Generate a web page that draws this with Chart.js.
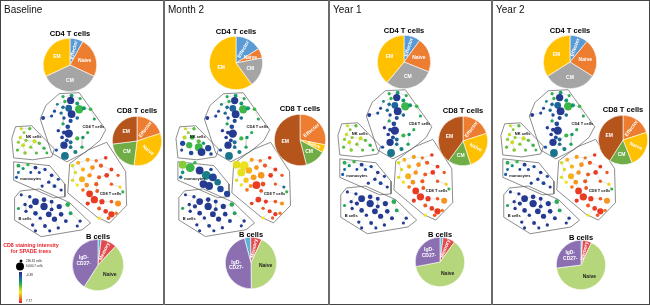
<!DOCTYPE html>
<html><head><meta charset="utf-8">
<script src="https://cdn.jsdelivr.net/npm/chart.js@4.4.1/dist/chart.umd.min.js"></script>
<style>
body{margin:0;background:#fff;font-family:'Liberation Sans',Arial,sans-serif}
#fig{position:relative;width:650px;height:306px;overflow:hidden;background:#fff}
.t{position:absolute;white-space:nowrap;line-height:1}
canvas{position:absolute}
</style></head><body><div id="fig"></div>
<script>
const panelTitles = ['Baseline', 'Month 2', 'Year 1', 'Year 2']

// pie subsets, % of parent, clockwise from 12 o'clock
const cd4Subsets = ['Effector', 'Naive', 'CM', 'EM']
const cd4Pct = [[8,24,36,32], [16,6,18,60], [10,21,30,39], [11,23,32,34]]
const cd8Subsets = ['Effector', 'Naive', 'CM', 'EM']
const cd8Pct = [[20,32,21,27], [28,5,13,54], [20,25,15,40], [20,24,15,41]]
const bSubsets = ['', 'Memory', 'Naive', 'IgD-\nCD27-']
const bPct = [[2,10,47,41], [4,7,43,46], [2,8,62,28], [1,6,66,27]]

const intensityTicks = ['-0.38', '7.77']
const sizeTicks = ['290.32 cells', '6,000.7 cells']

// SPADE nodes: [x, y, CD8 intensity 0..1, bubble r]
const cd4Nodes = [[62,95,.38,1.2],[71,94,.32,1.5],[80,97,.38,1.2],[64,100,.4,1.3],[70,99,.05,2.8],[77,102,.3,1.5],[56,103,.25,1.1],[62,106,.2,1.4],[68,107,.18,2.6],[79,108,.42,3.2],[84,107,.3,1.6],[91,108,.42,1.4],[53,110,.1,1.2],[60,112,.2,1.3],[71,113,.05,3],[50,115,.1,1.2],[63,117,.1,1.3],[41,117,.05,1.5],[77,117,.2,1.4],[70,120,.1,1.6],[62,123,.35,1.3],[67,126,.1,1.8],[57,130,.05,1.3],[63,132,.05,1.5],[68,133,.05,3.2],[61,137,.05,1.4],[66,140,.1,1.5],[70,142,.2,1.5],[77,138,.42,1.6],[83,137,.3,1.3],[88,132,.38,1.2],[63,145,.05,2.8],[70,147,.2,1.4],[82,147,.35,1.3],[64,156,.22,3],[75,152,.25,1.6],[55,150,.15,1.3],[95,118,.35,1.2]]
const nkNodes = [[18,128,.58,1.2],[27,128,.45,1.3],[21,132,.5,1.1],[17,137,.58,1.3],[23,140,.5,1.2],[32,141,.58,1.6],[15,142,.5,1.2],[37,143,.45,1.3],[20,145,.58,1.5],[28,147,.5,1.3],[42,148,.4,1.3],[14,150,.45,1.2],[22,153,.5,1.4],[34,153,.45,1.2],[45,153,.4,1.1]]
const nkNodesM2 = [[18,128,.58,1.2],[27,128,.45,1.3],[21,132,.5,1.1],[17,137,.55,1.6],[25,137,.42,1.8],[32,141,.45,1.6],[15,143,.1,2],[37,143,.3,1.3],[22,145,.42,2.4],[32,147,.42,3],[42,148,.08,2.4],[14,150,.1,1.2],[24,153,.1,1.8],[35,152,.05,3],[45,154,.1,1.4]]
const monoNodes = [[15,166,.38,1.5],[25,165,.42,1.3],[20,169,.3,1.2],[33,168,.05,1.5],[43,170,.1,1.3],[37,173,.1,1.2],[50,176,.05,1.4],[57,180,.1,1.2],[47,183,.05,1.3],[40,187,.05,1.2],[53,187,.1,1.5],[60,191,.05,1.2],[15,173,.2,1.1],[13,178,.15,1.2],[28,173,.1,1.1]]
const monoNodesM2 = [[15,165,.5,3],[23,168,.42,3.4],[33,171,.05,3],[40,176,.25,3.4],[47,178,.08,3],[52,183,.22,2.5],[37,185,.05,3],[43,187,.05,3],[55,190,.1,2.5],[62,195,.08,2.4],[15,173,.3,1.4],[13,178,.2,1.3],[28,163,.4,1.4],[45,170,.1,1.4]]
const bNodes = [[18,196,.05,1.2],[27,198,.05,1.3],[33,203,.05,2.6],[42,201,.05,1.8],[50,203,.05,1.5],[58,208,.05,2],[67,206,.38,1.8],[22,206,.05,1.3],[28,208,.05,1.6],[42,208,.05,2.8],[50,211,.05,1.5],[15,210,.35,1.2],[23,213,.05,1.3],[33,215,.05,1.8],[47,216,.05,2.2],[60,216,.05,1.8],[70,215,.35,1.5],[80,223,.05,1.3],[38,220,.05,1.3],[53,221,.05,2],[65,223,.05,1.5],[77,228,.05,1.2],[30,227,.05,1.3],[43,228,.05,1.5],[57,230,.05,1.3],[33,233,.05,1.2],[48,233,.05,1.2]]
const cd8Nodes = [[72,166,.6,1.4],[78,163,.75,1.5],[88,160,.78,1.6],[97,161,.85,1.3],[107,158,.95,1.4],[102,166,.9,1.6],[93,168,.8,1.8],[83,170,.75,1.6],[75,173,.6,1.3],[113,170,.95,1.5],[120,176,.9,1.3],[108,176,.95,1.8],[100,178,.9,1.5],[90,176,.8,1.7],[82,180,.75,2.3],[72,181,.6,1.3],[77,186,.65,1.3],[87,186,.8,1.8],[97,185,.9,1.6],[113,185,.9,1.3],[122,188,.7,1.2],[90,195,.95,2.6],[83,191,.85,1.4],[98,192,.9,1.5],[125,193,.4,1.2],[95,201,.95,2.8],[103,203,.95,2],[113,203,.9,1.4],[120,205,.8,2.3],[88,205,.95,1.6],[100,210,.9,1.5],[107,213,.95,1.8],[113,216,.95,2.4],[118,215,.85,1.3],[100,220,.65,1.2],[110,220,.9,1.4]]
const cd8NodesM2 = [[72,165,.62,3],[80,166,.64,3.4],[88,160,.78,1.6],[97,161,.85,1.3],[107,158,.95,1.4],[102,166,.9,1.6],[93,168,.8,1.8],[85,171,.75,2.5],[77,173,.63,3],[113,170,.95,1.5],[120,176,.9,1.3],[108,176,.95,1.8],[98,176,.8,2.5],[90,178,.78,2.2],[82,181,.72,2],[72,181,.6,1.3],[77,186,.65,1.3],[87,187,.8,1.6],[100,185,.92,1.8],[113,185,.9,1.3],[122,188,.2,1.2],[93,186,.95,3],[83,191,.85,1.4],[98,192,.9,1.5],[125,193,.4,1.2],[95,201,.95,2.2],[103,203,.95,1.6],[113,203,.9,1.4],[120,205,.8,1.6],[88,205,.95,1.4],[100,210,.9,1.3],[107,213,.95,1.5],[113,216,.95,1.6],[118,215,.85,1.3],[100,220,.65,1.2],[110,220,.9,1.3]]

const cd4Hull = [[58,92],[79,91],[107,129],[101,140],[86,152],[66,162],[50,153],[38,118],[44,104]]
const nkHull = [[12,126],[29,125],[53,149],[50,157],[30,160],[10,158],[8,138]]
const monoHull = [[10,162],[48,166],[64,185],[64,198],[52,199],[10,181]]
const bHull = [[11,199],[17,192],[37,190],[69,204],[91,225],[82,232],[39,239],[11,222]]
const cd8Hull = [[69,164],[88,150],[108,142],[128,172],[129,207],[111,225],[98,219],[67,194]]

const popLabels = [['CD4 T cells',94,126],['NK cells',31,136],['monocytes',28,180],['B cells',22,221],['CD8 T cells',112,195]]

const cd4Colors = ['#5b9bd5','#ed7d31','#a5a5a5','#ffc000']
const cd8Colors = ['#ed7d31','#ffc000','#70ad47','#b5541b']
const bColors = ['#5bb3d6','#e24b4e','#b6d67c','#8b6fb1']

const panels = [
	{left:0, w:164, ox:0, oy:0, cd4:[70,65,26], cd8:[137,141,24], b:[98,265,25], bRot:0},
	{left:164, w:165, ox:0, oy:0, cd4:[72,63,26], cd8:[136,140,25], b:[87,263,25], bRot:-15},
	{left:329, w:163, ox:-3, oy:-3, cd4:[75,62,26], cd8:[134,141,24], b:[111,262,24], bRot:0},
	{left:492, w:158, ox:-3, oy:-3, cd4:[78,62,26], cd8:[131,140,24], b:[89,265,24], bRot:0},
]
const bubbleScale = 1.3

const fig = document.getElementById('fig')
const el = (tag, css, txt) => { const e = document.createElement(tag); e.style.cssText = css; if (txt != null) e.textContent = txt; fig.appendChild(e); return e }

const stops = [[0,[40,44,135]],[.15,[30,88,165]],[.3,[20,150,115]],[.42,[60,182,70]],[.55,[185,215,45]],[.66,[248,228,25]],[.8,[247,148,30]],[1,[228,28,36]]]
const spade = v => {
	let i = 1
	while (i < stops.length-1 && v > stops[i][0]) i++
	const [a,ca] = stops[i-1], [b,cb] = stops[i]
	const t = Math.min(1, Math.max(0, (v-a)/(b-a)))
	return `rgb(${ca.map((c,k)=>Math.round(c+(cb[k]-c)*t)).join(',')})`
}

// edges: each node hooked to nearest earlier node of its population
const edgesOf = n => n.slice(1).flatMap((q,i) => {
	let best = 0, bd = 1e9
	n.slice(0,i+1).forEach((p,j) => { const d = (p[0]-q[0])**2+(p[1]-q[1])**2; if (d < bd) { bd = d; best = j } })
	return [{x:n[best][0],y:n[best][1]},{x:q[0],y:q[1]},{x:NaN,y:NaN}]
})

const hulls = [cd4Hull, nkHull, monoHull, bHull, cd8Hull]

const treeText = {
	id:'treeText',
	afterDatasetsDraw(c, args, o) {
		const ctx = c.ctx, sx = c.scales.x, sy = c.scales.y
		ctx.save()
		ctx.font = 'bold 4px "Liberation Sans"'
		ctx.fillStyle = '#111'; ctx.textAlign = 'center'; ctx.textBaseline = 'middle'
		popLabels.forEach(([t,x,y]) => ctx.fillText(t, sx.getPixelForValue(x), sy.getPixelForValue(y)))
		if (o.legend) {
			ctx.fillStyle = '#000'
			ctx.beginPath(); ctx.arc(21,261,1.5,0,7); ctx.fill()
			ctx.beginPath(); ctx.arc(20,266.5,4,0,7); ctx.fill()
			const g = ctx.createLinearGradient(0,272,0,303)
			stops.forEach(([s,c]) => g.addColorStop(s, `rgb(${c.join(',')})`))
			ctx.fillStyle = g; ctx.fillRect(19,272,3,31)
			ctx.font = '3px "Liberation Sans"'; ctx.textAlign = 'left'; ctx.fillStyle = '#222'
			ctx.fillText(sizeTicks[0],26,261); ctx.fillText(sizeTicks[1],26,266.5)
			ctx.fillText(intensityTicks[0],26,275); ctx.fillText(intensityTicks[1],26,301.5)
		}
		ctx.restore()
	}
}

const pieText = {
	id:'pieText',
	afterDatasetsDraw(c, args, o) {
		const ctx = c.ctx
		c.getDatasetMeta(0).data.forEach((arc, i) => {
			const t = o.labels[i]; if (!t) return
			const {x, y, startAngle, endAngle, outerRadius} = arc.getProps(['x','y','startAngle','endAngle','outerRadius'], true)
			const m = (startAngle+endAngle)/2, d = outerRadius*.58
			ctx.save()
			ctx.translate(x+Math.cos(m)*d, y+Math.sin(m)*d)
			if (o.rotate[i]) { let a = m; if (Math.cos(a) < 0) a += Math.PI; ctx.rotate(a) }
			ctx.font = 'bold 5px "Liberation Sans"'; ctx.fillStyle = o.colors[i]
			ctx.textAlign = 'center'; ctx.textBaseline = 'middle'
			const ls = t.split('\n')
			ls.forEach((s,k) => ctx.fillText(s, 0, (k-(ls.length-1)/2)*5.5))
			ctx.restore()
		})
	}
}

const pie = (p, [cx,cy,r], labels, data, colors, txt, rotate, rot, title, tdy) => {
	const cv = el('canvas', `left:${p.left+cx-r-1}px;top:${cy-r-1}px`)
	cv.width = cv.height = 2*r+2
	new Chart(cv, {
		type:'pie',
		data:{labels, datasets:[{data, backgroundColor:colors, borderColor:'#fff', borderWidth:.6}]},
		options:{responsive:false, animation:false, events:[], rotation:rot, layout:{padding:0},
			plugins:{legend:{display:false}, tooltip:{enabled:false}, pieText:{labels, colors:txt, rotate}}},
		plugins:[pieText]
	})
	el('div', `left:${p.left+cx-40}px;top:${cy-r-tdy-4}px;width:80px;text-align:center;font:bold 7.5px 'Liberation Sans';color:#000`, title).className = 't'
}

panels.forEach((p, k) => {
	const pops = k == 1 ? [cd4Nodes, nkNodesM2, monoNodesM2, bNodes, cd8NodesM2] : [cd4Nodes, nkNodes, monoNodes, bNodes, cd8Nodes]
	const cv = el('canvas', `left:${p.left}px;top:0px`)
	cv.width = p.w; cv.height = 306
	new Chart(cv, {
		type:'bubble',
		data:{datasets:[
			...hulls.map(h => ({type:'line', data:[...h,h[0]].map(([x,y])=>({x,y})), borderColor:'#5c5c5c', borderWidth:.7, pointRadius:0, fill:false, order:2})),
			{type:'line', data:pops.flatMap(edgesOf), borderColor:'#c4c4c4', borderWidth:.45, pointRadius:0, fill:false, spanGaps:false, order:3},
			...pops.map(n => ({data:n.map(([x,y,v,r])=>({x,y,r:r*bubbleScale})), backgroundColor:n.map(q=>spade(q[2])), borderWidth:0, order:0}))
		]},
		options:{responsive:false, animation:false, events:[], layout:{padding:0},
			scales:{x:{type:'linear', display:false, min:-p.ox, max:p.w-p.ox}, y:{type:'linear', display:false, min:-p.oy, max:306-p.oy, reverse:true}},
			plugins:{legend:{display:false}, tooltip:{enabled:false}, treeText:{legend:k==0}}},
		plugins:[treeText]
	})
	el('div', `left:${p.left+4}px;top:4px;font:10px 'Liberation Sans';color:#111`, panelTitles[k]).className = 't'

	pie(p, p.cd4, cd4Subsets, cd4Pct[k], cd4Colors, ['#fff','#fff','#fff','#fff'], [1,0,0,0], 0, 'CD4 T cells', 6)
	pie(p, p.cd8, cd8Subsets, cd8Pct[k], cd8Colors, ['#fff','#fff','#fff','#fff'], [1,1,0,0], 0, 'CD8 T cells', 7)
	pie(p, p.b, bSubsets, bPct[k], bColors, ['#fff','#fff','#222','#fff'], [0,1,0,0], p.bRot, 'B cells', 4)
})

el('div', `left:0;top:242px;width:62px;text-align:center;font:bold 5.3px 'Liberation Sans';color:#e8232a;line-height:6px`, '').className = 't'
fig.lastChild.innerHTML = 'CD8 staining intensity<br>for SPADE trees'

// frame
el('div', 'position:absolute;left:0;top:0;width:650px;height:305px;border:1px solid #444;box-sizing:border-box')
;[164,329,492].forEach(x => el('div', `position:absolute;left:${x-1}px;top:0;width:2px;height:305px;background:#6a6a6a`))
</script></body></html>
